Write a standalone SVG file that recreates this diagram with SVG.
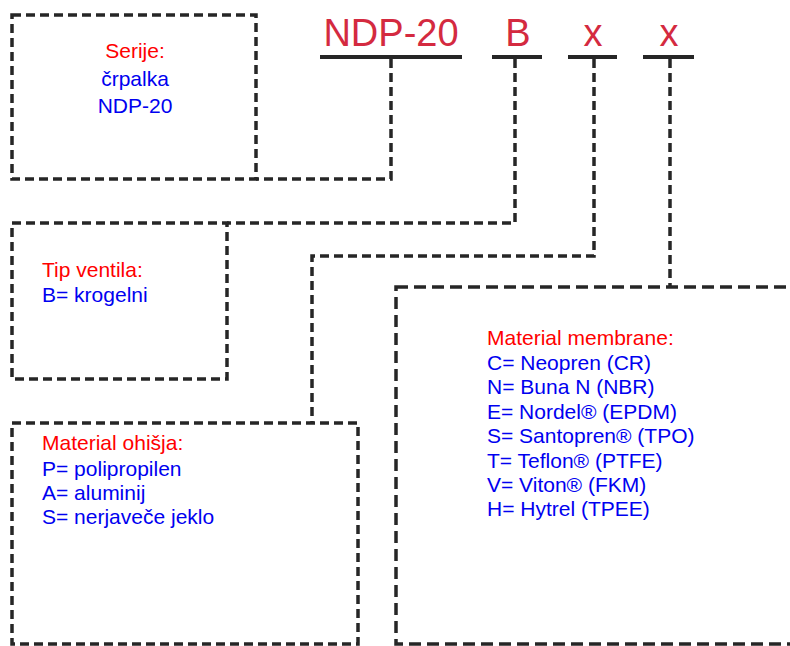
<svg xmlns="http://www.w3.org/2000/svg" width="790" height="646" viewBox="0 0 790 646">
<style>
.box{fill:none;stroke:#262626;stroke-width:3.5;stroke-dasharray:9 5}
.box4{fill:none;stroke:#262626;stroke-width:3.5;stroke-dasharray:12 6}
.conn{fill:none;stroke:#262626;stroke-width:3.5;stroke-dasharray:9 5}
.ul{stroke:#262626;stroke-width:4}
.code{font-family:"Liberation Sans",Arial,sans-serif;font-size:38px;fill:#d42a40}
.t{font-family:"Liberation Sans",Arial,sans-serif;font-size:21px}
.r{fill:#ff0000}
.b{fill:#0000f0}
</style>
<rect width="790" height="646" fill="#ffffff"/>
<g id="code">
<text class="code" x="391" y="46" text-anchor="middle">NDP-20</text>
<text class="code" x="518" y="46" text-anchor="middle">B</text>
<text class="code" x="593" y="46" text-anchor="middle">x</text>
<text class="code" x="669" y="46" text-anchor="middle">x</text>
<line class="ul" x1="320" y1="57" x2="462" y2="57"/>
<line class="ul" x1="492" y1="57" x2="542" y2="57"/>
<line class="ul" x1="568" y1="57" x2="617" y2="57"/>
<line class="ul" x1="643" y1="57" x2="694" y2="57"/>
</g>
<g id="connectors">
<path class="conn" d="M391,59 V179 H256"/>
<path class="conn" d="M515,59 V223 H227"/>
<path class="conn" d="M594,59 V256 H312 V423"/>
<path class="conn" d="M670,59 V287"/>
</g>
<g id="serije">
<rect class="box" x="12" y="15" width="244" height="164"/>
<text class="t r" x="135" y="58" text-anchor="middle">Serije:</text>
<text class="t b" x="135" y="86" text-anchor="middle">črpalka</text>
<text class="t b" x="135" y="113" text-anchor="middle">NDP-20</text>
</g>
<g id="tip-ventila">
<rect class="box" x="12" y="223" width="215" height="156"/>
<text class="t r" x="42" y="277">Tip ventila:</text>
<text class="t b" x="42" y="302">B= krogelni</text>
</g>
<g id="material-ohisja">
<rect class="box" x="12" y="423" width="346" height="221"/>
<text class="t r" x="42" y="450">Material ohišja:</text>
<text class="t b" x="42" y="476">P= polipropilen</text>
<text class="t b" x="42" y="500">A= aluminij</text>
<text class="t b" x="42" y="524">S= nerjaveče jeklo</text>
</g>
<g id="material-membrane">
<rect class="box4" x="396" y="287" width="410" height="357"/>
<text class="t r" x="487" y="345">Material membrane:</text>
<text class="t b" x="487" y="370">C= Neopren (CR)</text>
<text class="t b" x="487" y="394">N= Buna N (NBR)</text>
<text class="t b" x="487" y="419">E= Nordel® (EPDM)</text>
<text class="t b" x="487" y="443">S= Santopren® (TPO)</text>
<text class="t b" x="487" y="468">T= Teflon® (PTFE)</text>
<text class="t b" x="487" y="492">V= Viton® (FKM)</text>
<text class="t b" x="487" y="516">H= Hytrel (TPEE)</text>
</g>
</svg>
